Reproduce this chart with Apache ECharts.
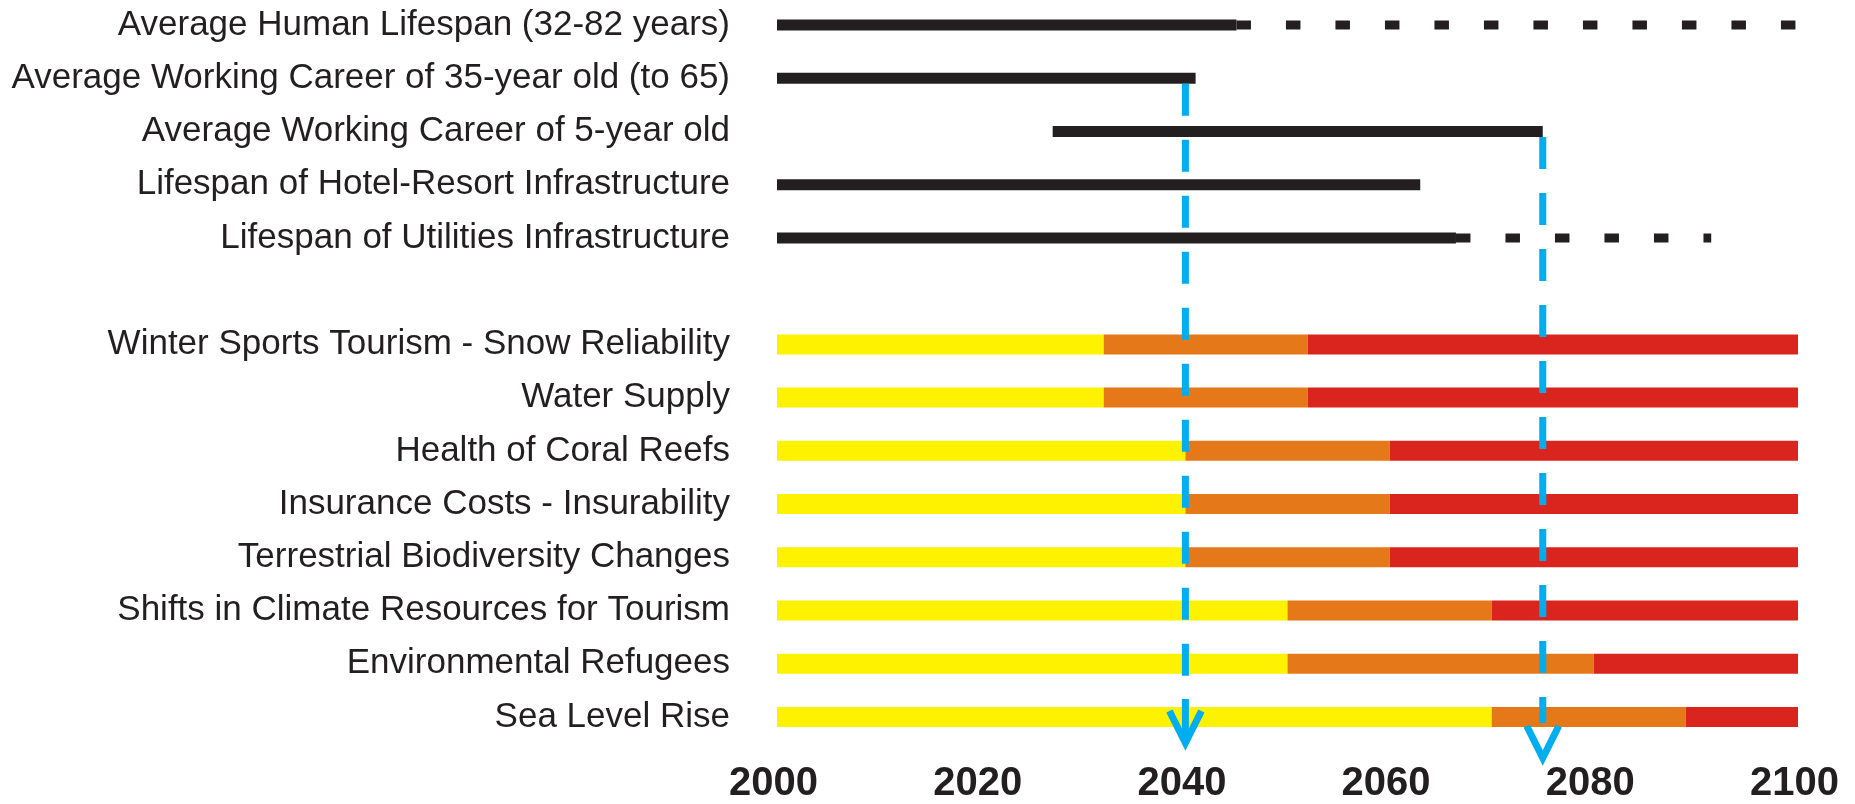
<!DOCTYPE html>
<html>
<head>
<meta charset="utf-8">
<script src="https://cdn.jsdelivr.net/npm/echarts@6/dist/echarts.min.js"></script>
<style>
html,body{margin:0;padding:0;background:#fff;}
#chart{width:1855px;height:804px;}
</style>
</head>
<body>
<div id="chart"></div>
<script>
// ---- data ----
const categories = [
  'Average Human Lifespan (32-82 years)',
  'Average Working Career of 35-year old (to 65)',
  'Average Working Career of 5-year old',
  'Lifespan of Hotel-Resort Infrastructure',
  'Lifespan of Utilities Infrastructure',
  '',
  'Winter Sports Tourism - Snow Reliability',
  'Water Supply',
  'Health of Coral Reefs',
  'Insurance Costs - Insurability',
  'Terrestrial Biodiversity Changes',
  'Shifts in Climate Resources for Tourism',
  'Environmental Refugees',
  'Sea Level Rise'
];
// timeline rows (first 5 categories)
const spanStart = [2000, 2000, 2027, 2000, 2000];
const spanEnd   = [2045, 2041, 2075, 2063, 2066.5];
const dottedEnd = [2100, null, null, null, 2091.5];
// impact rows (categories 7..14)
const impactRows = [6, 7, 8, 9, 10, 11, 12, 13];
const yellowEnd = [2032, 2032, 2040, 2040, 2040, 2050, 2050, 2070];
const orangeEnd = [2052, 2052, 2060, 2060, 2060, 2070, 2080, 2089];
const redEnd    = [2100, 2100, 2100, 2100, 2100, 2100, 2100, 2100];
// decision horizons (blue arrows): year and the timeline row they start below
const arrowYears = [2040, 2075];
const arrowFromRow = [1, 2];
const xTicks = [2000, 2020, 2040, 2060, 2080, 2100];

// ---- build series data ----
const solidData = spanStart.map((s, i) => [s, spanEnd[i], i]);
const dottedData = [];
dottedEnd.forEach((d, i) => { if (d != null) dottedData.push([spanEnd[i], d, i]); });
const yellowData = impactRows.map((r, i) => [2000, yellowEnd[i], r]);
const orangeData = impactRows.map((r, i) => [yellowEnd[i], orangeEnd[i], r]);
const redData    = impactRows.map((r, i) => [orangeEnd[i], redEnd[i], r]);
const arrowData  = arrowYears.map((y, i) => [y, arrowFromRow[i], i]);
const lastRow = categories.length - 1;

function rectItem(color, h) {
  return function (params, api) {
    const s = api.coord([api.value(0), api.value(2)]);
    const e = api.coord([api.value(1), api.value(2)]);
    return {
      type: 'rect',
      shape: { x: s[0], y: s[1] - h / 2, width: e[0] - s[0], height: h },
      style: { fill: color }
    };
  };
}

const blue = '#00AEEF';
const dark = '#231F20';

const chart = echarts.init(document.getElementById('chart'));
chart.setOption({
  animation: false,
  backgroundColor: '#ffffff',
  grid: { left: 777, right: 57, top: 25, bottom: 86, containLabel: false },
  xAxis: {
    type: 'value', min: xTicks[0], max: xTicks[xTicks.length - 1], interval: 20,
    axisLine: { show: false }, axisTick: { show: false }, splitLine: { show: false },
    axisLabel: {
      fontFamily: 'Liberation Sans, Arial, sans-serif', fontWeight: 'bold',
      fontSize: 40, color: dark, margin: 67, verticalAlign: 'middle',
      padding: [0, 7, 0, 0],
      formatter: function (v) { return String(v); }
    }
  },
  yAxis: {
    type: 'category', data: categories, inverse: true, boundaryGap: false,
    axisLine: { show: false }, axisTick: { show: false }, splitLine: { show: false },
    axisLabel: {
      fontFamily: 'Liberation Sans, Arial, sans-serif', fontSize: 35,
      color: dark, margin: 47, interval: 0
    }
  },
  series: [
    { type: 'custom', name: 'yellow', data: yellowData, encode: { x: [0, 1], y: 2 }, renderItem: rectItem('#FFF200', 20), z: 2 },
    { type: 'custom', name: 'orange', data: orangeData, encode: { x: [0, 1], y: 2 }, renderItem: rectItem('#E57818', 20), z: 2 },
    { type: 'custom', name: 'red', data: redData, encode: { x: [0, 1], y: 2 }, renderItem: rectItem('#DA251E', 20), z: 2 },
    { type: 'custom', name: 'span', data: solidData, encode: { x: [0, 1], y: 2 }, renderItem: rectItem(dark, 11), z: 3 },
    {
      type: 'custom', name: 'extension', data: dottedData, encode: { x: [0, 1], y: 2 }, z: 3,
      renderItem: function (params, api) {
        const s = api.coord([api.value(0), api.value(2)]);
        const e = api.coord([api.value(1), api.value(2)]);
        return {
          type: 'line',
          shape: { x1: s[0], y1: s[1], x2: e[0], y2: e[1] },
          style: { stroke: dark, lineWidth: 9, lineDash: [14.5, 35], lineCap: 'butt' }
        };
      }
    },
    {
      type: 'custom', name: 'horizon', data: arrowData, encode: { x: 0, y: 1 }, z: 5,
      renderItem: function (params, api) {
        const idx = api.value(2);
        const top = api.coord([api.value(0), api.value(1)]);
        const bottom = api.coord([api.value(0), lastRow]);
        const x = top[0];
        const y0 = top[1] + 5.5;
        const tip = bottom[1] + (idx === 0 ? 26 : 41);
        const shaftEnd = idx === 0 ? tip - 44 : tip - 35;
        const children = [
          { type: 'line', shape: { x1: x, y1: y0, x2: x, y2: shaftEnd },
            style: { stroke: blue, lineWidth: 7, lineDash: [32, 24], lineCap: 'butt' } },
          { type: 'polyline', shape: { points: [[x - 16, tip - 32], [x, tip], [x + 16, tip - 32]] },
            style: { stroke: blue, lineWidth: 7, fill: null, lineJoin: 'miter' } }
        ];
        if (idx === 0) {
          children.push({ type: 'line', shape: { x1: x, y1: tip - 44, x2: x, y2: tip - 3 },
            style: { stroke: blue, lineWidth: 7 } });
        }
        return { type: 'group', children: children };
      }
    }
  ]
});
</script>
</body>
</html>
